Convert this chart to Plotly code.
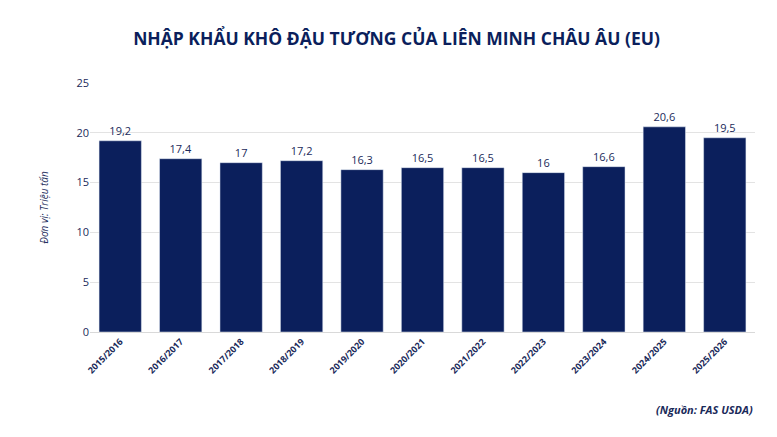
import plotly.graph_objects as go

seasons = ["2015/2016", "2016/2017", "2017/2018", "2018/2019", "2019/2020", "2020/2021",
           "2021/2022", "2022/2023", "2023/2024", "2024/2025", "2025/2026"]
imports = [19.2, 17.4, 17, 17.2, 16.3, 16.5, 16.5, 16, 16.6, 20.6, 19.5]
labels = ["19,2", "17,4", "17", "17,2", "16,3", "16,5", "16,5", "16", "16,6", "20,6", "19,5"]

NAVY = "#0b1f5c"
FONT = "Open Sans"

fig = go.Figure(go.Bar(
    x=seasons, y=imports, text=labels, textposition="outside",
    textfont=dict(size=11, color="#1a2a5a", family=FONT),
    marker=dict(color=NAVY), cliponaxis=False,
))

fig.update_layout(
    width=777, height=437,
    paper_bgcolor="white", plot_bgcolor="white",
    margin=dict(l=82, r=30, t=75, b=113),
    bargap=0.3,
    showlegend=False,
    font=dict(family=FONT, color="#1a2a5a"),
    title=dict(text="<b>NHẬP KHẨU KHÔ ĐẬU TƯƠNG CỦA LIÊN MINH CHÂU ÂU (EU)</b>",
               x=0.5, xanchor="center", y=0.93, yanchor="middle",
               font=dict(size=17.5, color="#0b1f5c", family=FONT)),
    xaxis=dict(tickangle=-45, tickfont=dict(size=9, color="#1a2a5a", family=FONT),
               showline=True, linecolor="#d9d9d9", ticks=""),
    yaxis=dict(range=[0, 25], dtick=5, gridcolor="#e3e3e3", zeroline=False,
               tickfont=dict(size=11, color="#1a2a5a", family=FONT),
               title=dict(text="<i>Đơn vị: Triệu tấn</i>", font=dict(size=10, color="#1a2a5a"),
                          standoff=25)),
    annotations=[dict(text="<b><i>(Nguồn: FAS USDA)</i></b>", xref="paper", yref="paper",
                      x=1.0, y=-0.31, xanchor="right", yanchor="middle", showarrow=False,
                      font=dict(size=11, color="#1a2a5a", family=FONT))],
)
fig.update_xaxes(tickprefix="<b>", ticksuffix="</b>")

fig.write_html("out.html")
